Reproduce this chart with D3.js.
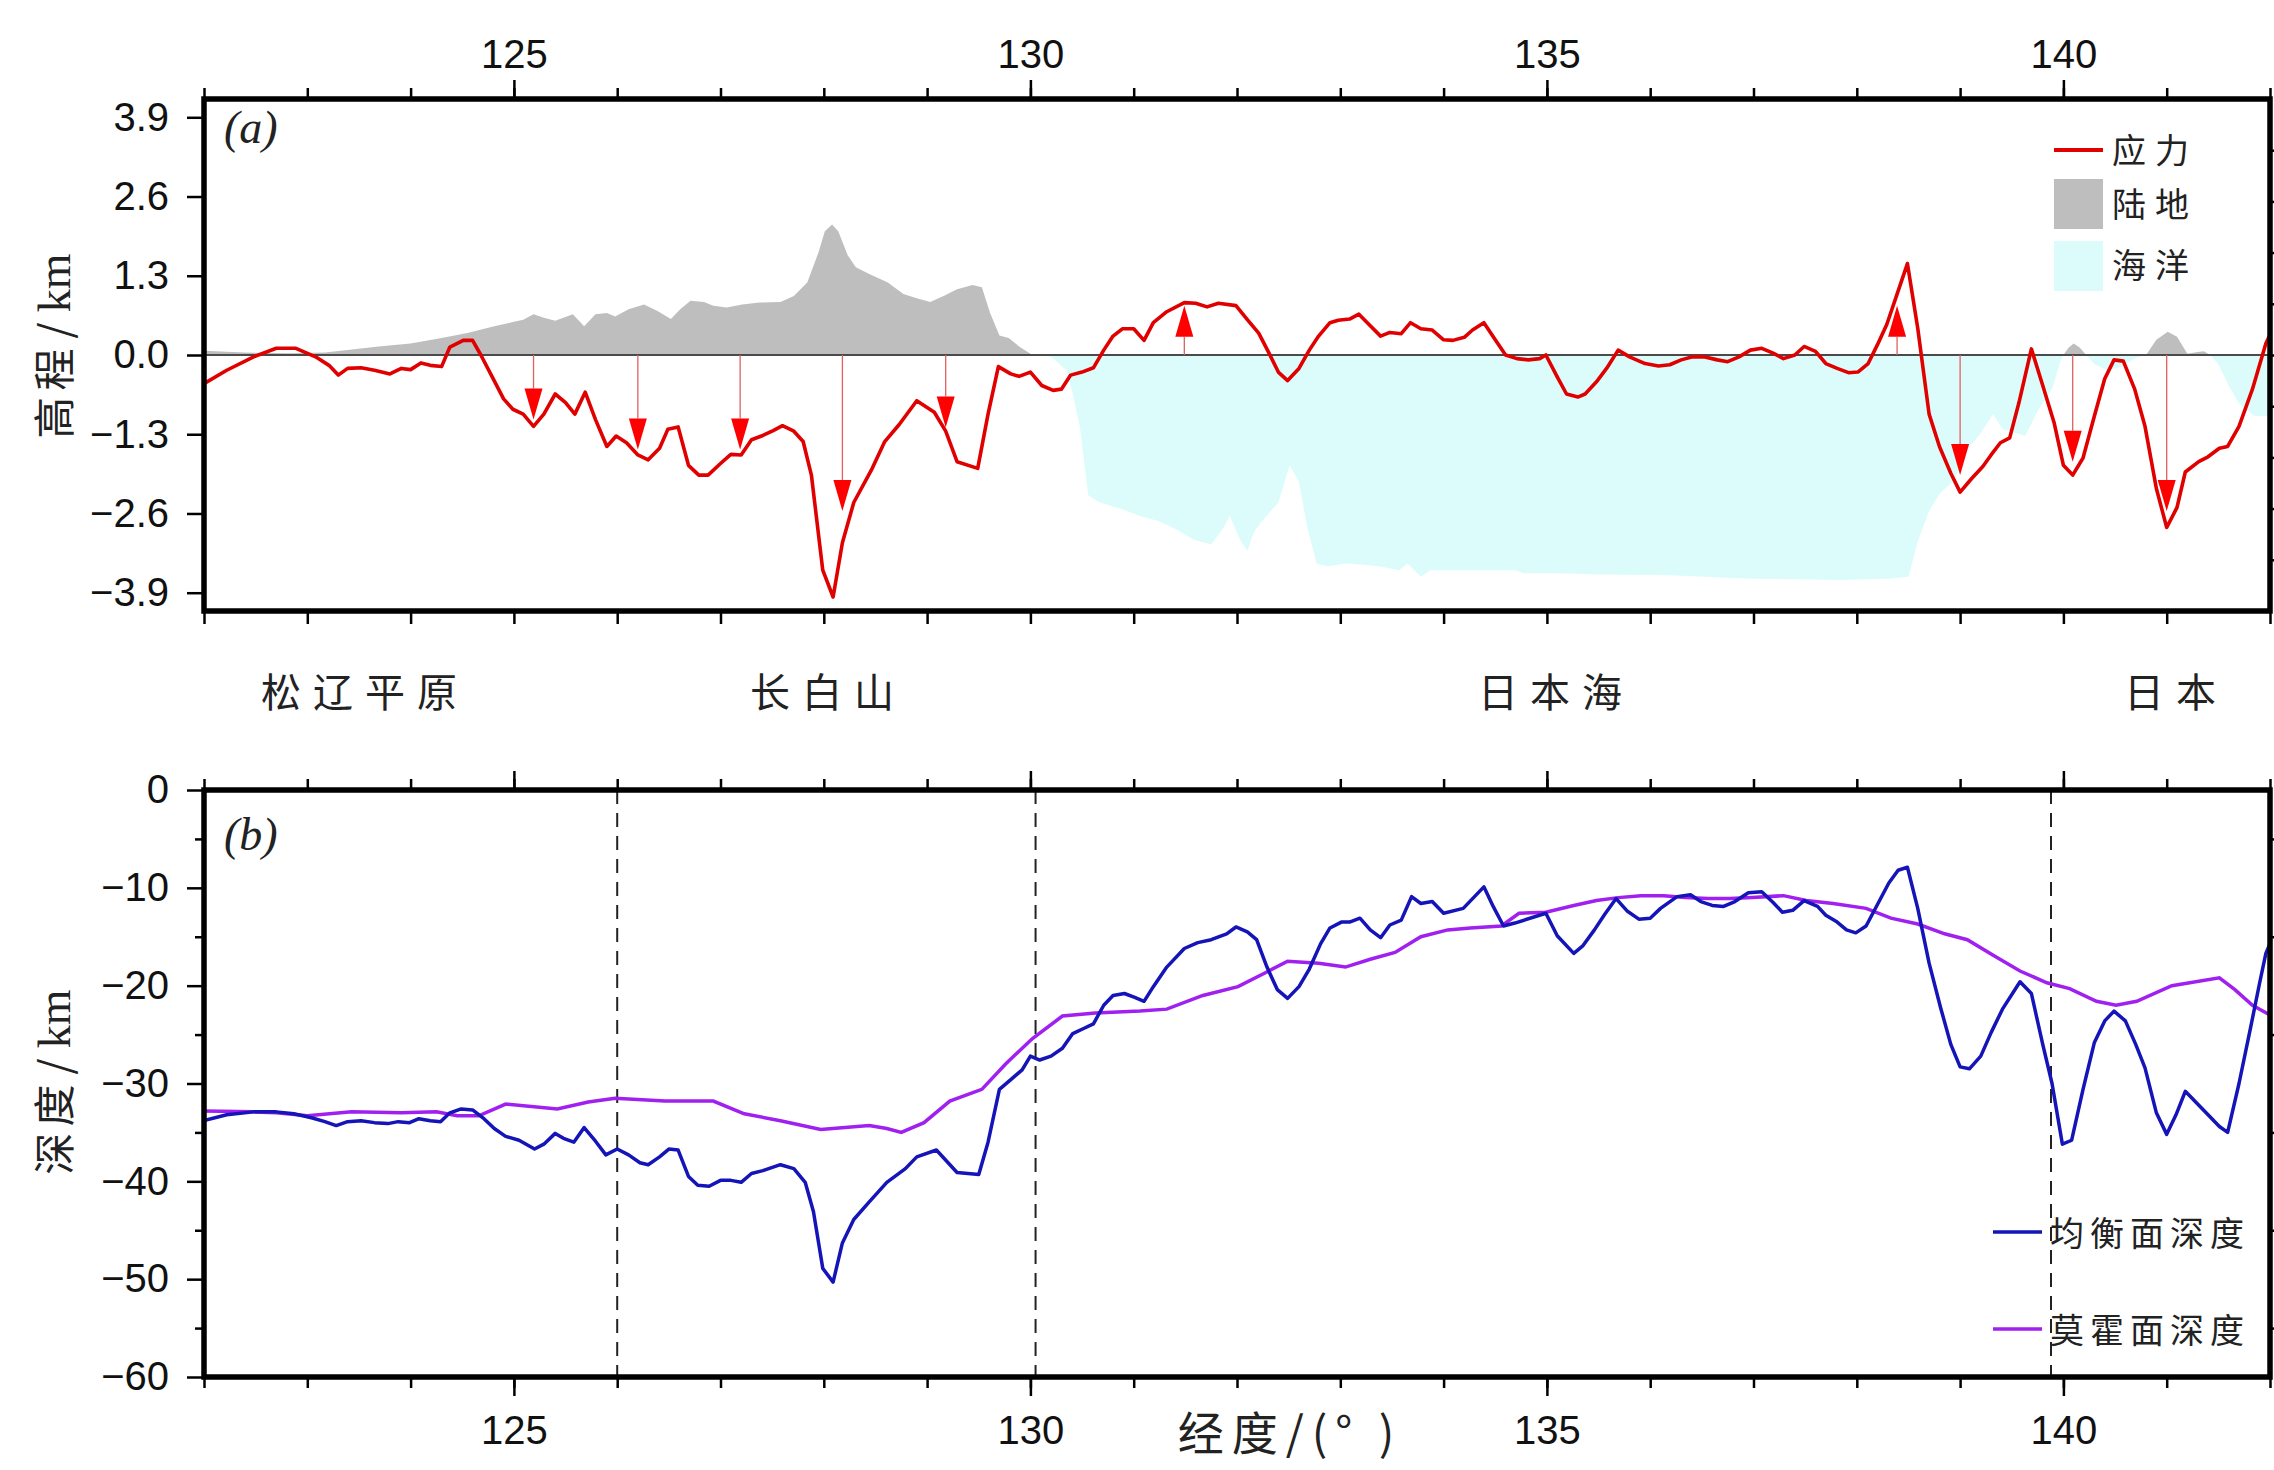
<!DOCTYPE html>
<html>
<head>
<meta charset="utf-8">
<script src="https://cdn.jsdelivr.net/npm/d3@7"></script>
<style>
body { margin: 0; background: #fff; }
svg { display: block; }
.tick text { font-family: "Liberation Sans", Arial, sans-serif; font-size: 40px; fill: #111; }
.cjk { font-family: "Noto Sans CJK SC", sans-serif; fill: #222; }
</style>
</head>
<body>
<svg id="chart" width="2274" height="1470"></svg>
<script>
// stress profile (lon, value) - panel a
var stress = [[122.0,-0.47],[122.22,-0.25],[122.48,-0.03],[122.7,0.11],[122.89,0.11],[123.08,-0.03],[123.21,-0.17],[123.3,-0.33],[123.39,-0.22],[123.52,-0.21],[123.65,-0.25],[123.8,-0.31],[123.91,-0.22],[124.0,-0.24],[124.1,-0.13],[124.19,-0.17],[124.3,-0.19],[124.38,0.13],[124.51,0.24],[124.6,0.24],[124.68,0.0],[124.79,-0.36],[124.9,-0.72],[124.99,-0.89],[125.09,-0.97],[125.19,-1.17],[125.29,-0.97],[125.4,-0.64],[125.5,-0.78],[125.59,-0.97],[125.69,-0.61],[125.79,-1.06],[125.9,-1.5],[125.99,-1.33],[126.09,-1.44],[126.2,-1.64],[126.3,-1.72],[126.41,-1.53],[126.49,-1.22],[126.59,-1.18],[126.69,-1.81],[126.79,-1.97],[126.88,-1.97],[127.0,-1.78],[127.1,-1.63],[127.2,-1.64],[127.3,-1.39],[127.41,-1.32],[127.51,-1.24],[127.6,-1.16],[127.71,-1.25],[127.8,-1.42],[127.88,-1.97],[127.99,-3.53],[128.09,-3.97],[128.18,-3.08],[128.29,-2.42],[128.46,-1.89],[128.59,-1.42],[128.73,-1.14],[128.9,-0.75],[129.07,-0.94],[129.18,-1.25],[129.29,-1.75],[129.49,-1.86],[129.59,-0.97],[129.69,-0.19],[129.81,-0.31],[129.89,-0.35],[130.0,-0.28],[130.11,-0.5],[130.22,-0.58],[130.3,-0.56],[130.39,-0.33],[130.5,-0.28],[130.61,-0.21],[130.71,0.08],[130.8,0.31],[130.89,0.43],[131.0,0.43],[131.1,0.24],[131.19,0.53],[131.32,0.71],[131.49,0.86],[131.6,0.85],[131.71,0.79],[131.82,0.85],[131.99,0.81],[132.1,0.58],[132.21,0.36],[132.31,0.03],[132.4,-0.28],[132.49,-0.42],[132.6,-0.22],[132.7,0.08],[132.79,0.31],[132.9,0.53],[132.98,0.57],[133.09,0.59],[133.18,0.67],[133.29,0.48],[133.39,0.31],[133.48,0.37],[133.59,0.35],[133.68,0.53],[133.78,0.43],[133.89,0.41],[134.0,0.25],[134.09,0.24],[134.2,0.29],[134.28,0.41],[134.39,0.53],[134.5,0.25],[134.6,0.0],[134.71,-0.06],[134.82,-0.08],[134.93,-0.06],[134.99,0.0],[135.1,-0.36],[135.19,-0.64],[135.3,-0.69],[135.37,-0.64],[135.48,-0.44],[135.59,-0.19],[135.69,0.08],[135.8,-0.03],[135.95,-0.14],[136.08,-0.18],[136.19,-0.16],[136.3,-0.08],[136.41,-0.03],[136.52,-0.03],[136.65,-0.08],[136.75,-0.11],[136.86,-0.03],[136.97,0.08],[137.08,0.11],[137.19,0.03],[137.29,-0.06],[137.4,0.0],[137.49,0.14],[137.6,0.06],[137.7,-0.14],[137.81,-0.22],[137.92,-0.29],[138.01,-0.28],[138.11,-0.14],[138.2,0.17],[138.29,0.5],[138.39,1.0],[138.49,1.5],[138.59,0.44],[138.7,-0.97],[138.8,-1.5],[138.91,-1.94],[139.0,-2.25],[139.11,-2.03],[139.22,-1.83],[139.3,-1.64],[139.39,-1.44],[139.48,-1.36],[139.57,-0.78],[139.69,0.1],[139.8,-0.5],[139.91,-1.11],[140.0,-1.81],[140.09,-1.97],[140.19,-1.69],[140.3,-1.0],[140.4,-0.39],[140.49,-0.08],[140.58,-0.1],[140.69,-0.56],[140.79,-1.17],[140.9,-2.19],[141.0,-2.83],[141.1,-2.5],[141.18,-1.92],[141.31,-1.75],[141.4,-1.67],[141.51,-1.53],[141.59,-1.5],[141.7,-1.17],[141.83,-0.56],[141.96,0.19],[142.0,0.33]];

// topography (km): positive = land, negative = sea floor
var topo = [[122.0,0.07],[122.39,0.04],[122.83,0.03],[123.17,0.04],[123.39,0.08],[123.69,0.14],[124.0,0.19],[124.3,0.28],[124.55,0.36],[124.81,0.47],[124.99,0.54],[125.09,0.58],[125.19,0.67],[125.29,0.61],[125.4,0.56],[125.57,0.67],[125.68,0.47],[125.79,0.67],[125.9,0.69],[125.98,0.63],[126.11,0.75],[126.26,0.83],[126.39,0.72],[126.52,0.59],[126.61,0.75],[126.71,0.89],[126.84,0.87],[126.93,0.81],[127.06,0.78],[127.21,0.83],[127.38,0.86],[127.58,0.87],[127.71,0.97],[127.84,1.19],[127.95,1.69],[128.01,2.03],[128.08,2.14],[128.14,2.03],[128.23,1.64],[128.31,1.44],[128.44,1.33],[128.62,1.19],[128.77,1.0],[128.9,0.93],[129.03,0.87],[129.16,0.97],[129.29,1.08],[129.44,1.15],[129.53,1.11],[129.61,0.69],[129.7,0.32],[129.79,0.28],[129.89,0.14],[130.02,0.0],
  [130.2,-0.03],[130.35,-0.25],[130.41,-0.64],[130.48,-1.19],[130.52,-1.75],[130.56,-2.3],[130.67,-2.42],[130.89,-2.53],[131.06,-2.64],[131.23,-2.72],[131.41,-2.86],[131.58,-3.03],[131.75,-3.11],[131.86,-2.86],[131.93,-2.64],[132.03,-3.03],[132.1,-3.22],[132.16,-2.92],[132.23,-2.75],[132.4,-2.42],[132.51,-1.81],[132.6,-2.08],[132.68,-2.83],[132.77,-3.42],[132.88,-3.47],[133.05,-3.42],[133.22,-3.44],[133.39,-3.47],[133.57,-3.53],[133.65,-3.42],[133.78,-3.64],[133.87,-3.53],[134.09,-3.53],[134.35,-3.53],[134.69,-3.53],[134.78,-3.58],[135.12,-3.58],[135.5,-3.6],[136.13,-3.61],[136.99,-3.67],[137.85,-3.69],[138.29,-3.67],[138.5,-3.64],[138.59,-3.06],[138.7,-2.56],[138.8,-2.28],[138.94,-2.06],[139.07,-1.56],[139.2,-1.28],[139.32,-0.97],[139.41,-1.22],[139.54,-1.28],[139.63,-1.33],[139.76,-0.89],[139.89,-0.56],[139.97,-0.11],[140.0,0.0],[140.05,0.12],[140.1,0.19],[140.16,0.12],[140.22,0.0],[140.3,-0.15],[140.42,-0.25],[140.55,-0.2],[140.7,-0.05],[140.8,0.0],[140.9,0.25],[141.01,0.38],[141.1,0.3],[141.2,0.02],[141.3,0.05],[141.36,0.06],[141.42,0.0],[141.5,-0.15],[141.6,-0.5],[141.7,-0.8],[141.85,-1.0],[142.0,-1.0]];

// stress arrows: lon, arrow tip value
var arrows = [[125.19,-1.06],[126.2,-1.55],[127.19,-1.55],[128.18,-2.56],[129.18,-1.19],[131.49,0.81],[138.39,0.81],[139.0,-1.97],[140.09,-1.75],[141.0,-2.56]];

// panel b: isostatic surface depth and Moho depth (km)
var isoDepth = [[122.0,-33.8],[122.22,-33.2],[122.48,-32.9],[122.7,-32.9],[122.87,-33.1],[123.04,-33.5],[123.17,-33.9],[123.28,-34.3],[123.39,-33.9],[123.52,-33.8],[123.65,-34.0],[123.78,-34.1],[123.88,-33.9],[123.99,-34.0],[124.08,-33.6],[124.19,-33.8],[124.29,-33.9],[124.38,-33.0],[124.49,-32.6],[124.6,-32.7],[124.71,-33.6],[124.81,-34.6],[124.92,-35.4],[125.05,-35.8],[125.2,-36.7],[125.29,-36.2],[125.4,-35.1],[125.48,-35.6],[125.58,-36.0],[125.68,-34.5],[125.79,-35.9],[125.89,-37.3],[126.0,-36.7],[126.11,-37.3],[126.22,-38.1],[126.3,-38.3],[126.41,-37.5],[126.5,-36.7],[126.59,-36.8],[126.69,-39.5],[126.78,-40.4],[126.89,-40.5],[127.0,-39.9],[127.1,-39.9],[127.2,-40.1],[127.3,-39.2],[127.41,-38.9],[127.58,-38.3],[127.71,-38.7],[127.82,-40.1],[127.9,-43.1],[127.99,-48.9],[128.09,-50.3],[128.18,-46.3],[128.29,-43.9],[128.44,-42.1],[128.61,-40.1],[128.79,-38.7],[128.9,-37.5],[129.09,-36.8],[129.29,-39.1],[129.5,-39.3],[129.59,-36.0],[129.7,-30.6],[129.81,-29.6],[129.92,-28.6],[130.0,-27.2],[130.09,-27.6],[130.2,-27.2],[130.31,-26.4],[130.41,-24.9],[130.51,-24.4],[130.61,-23.9],[130.71,-22.0],[130.8,-21.0],[130.91,-20.8],[131.01,-21.2],[131.1,-21.6],[131.19,-20.1],[131.32,-18.1],[131.49,-16.2],[131.62,-15.6],[131.75,-15.3],[131.9,-14.7],[131.99,-14.0],[132.1,-14.5],[132.19,-15.3],[132.29,-18.1],[132.39,-20.4],[132.49,-21.3],[132.6,-20.1],[132.7,-18.3],[132.81,-15.7],[132.9,-14.1],[133.01,-13.5],[133.09,-13.5],[133.19,-13.1],[133.29,-14.3],[133.39,-15.1],[133.48,-13.8],[133.59,-13.3],[133.69,-10.9],[133.78,-11.6],[133.89,-11.4],[134.0,-12.6],[134.19,-12.1],[134.39,-9.9],[134.48,-11.9],[134.58,-13.9],[134.69,-13.6],[134.99,-12.6],[135.1,-14.9],[135.26,-16.7],[135.35,-15.9],[135.46,-14.3],[135.56,-12.7],[135.67,-11.1],[135.78,-12.4],[135.89,-13.2],[136.0,-13.1],[136.1,-12.1],[136.26,-10.9],[136.39,-10.7],[136.49,-11.4],[136.6,-11.8],[136.71,-11.9],[136.82,-11.4],[136.95,-10.5],[137.08,-10.4],[137.19,-11.5],[137.28,-12.5],[137.38,-12.3],[137.49,-11.3],[137.62,-11.9],[137.7,-12.8],[137.81,-13.5],[137.9,-14.3],[137.99,-14.6],[138.09,-13.9],[138.2,-11.7],[138.31,-9.5],[138.4,-8.2],[138.49,-7.9],[138.59,-12.1],[138.7,-17.7],[138.81,-22.2],[138.91,-26.0],[139.0,-28.3],[139.09,-28.5],[139.2,-27.2],[139.3,-24.8],[139.41,-22.4],[139.58,-19.6],[139.69,-20.8],[139.8,-26.0],[139.89,-30.0],[139.99,-36.2],[140.08,-35.8],[140.19,-30.6],[140.3,-25.8],[140.4,-23.6],[140.49,-22.6],[140.6,-23.6],[140.7,-26.0],[140.79,-28.4],[140.9,-33.0],[141.0,-35.2],[141.09,-33.2],[141.18,-30.8],[141.29,-32.0],[141.4,-33.2],[141.51,-34.4],[141.59,-35.0],[141.7,-30.0],[141.81,-24.4],[141.9,-19.7],[141.96,-16.7],[142.0,-15.7]];

var mohoDepth = [[122.0,-32.8],[122.48,-32.9],[122.7,-33.0],[123.0,-33.3],[123.43,-32.9],[123.91,-33.0],[124.25,-32.9],[124.45,-33.3],[124.66,-33.3],[124.92,-32.1],[125.42,-32.6],[125.72,-31.9],[125.98,-31.5],[126.46,-31.8],[126.93,-31.8],[127.23,-33.1],[127.58,-33.8],[127.97,-34.7],[128.44,-34.3],[128.61,-34.6],[128.75,-35.0],[128.97,-34.0],[129.22,-31.8],[129.53,-30.6],[129.76,-28.0],[130.02,-25.4],[130.31,-23.1],[130.63,-22.8],[131.06,-22.6],[131.32,-22.4],[131.67,-21.0],[132.01,-20.1],[132.27,-18.7],[132.49,-17.5],[132.79,-17.7],[133.05,-18.1],[133.29,-17.3],[133.53,-16.6],[133.78,-15.0],[134.04,-14.3],[134.26,-14.1],[134.56,-13.9],[134.73,-12.6],[134.99,-12.5],[135.26,-11.8],[135.48,-11.3],[135.69,-11.0],[135.91,-10.8],[136.13,-10.8],[136.34,-11.0],[136.56,-11.1],[136.77,-11.1],[136.99,-11.0],[137.29,-10.8],[137.51,-11.3],[137.77,-11.6],[138.09,-12.1],[138.33,-13.1],[138.59,-13.7],[138.85,-14.7],[139.07,-15.3],[139.32,-16.9],[139.58,-18.5],[139.84,-19.7],[140.06,-20.3],[140.32,-21.6],[140.51,-22.0],[140.71,-21.6],[141.05,-20.0],[141.51,-19.2],[141.66,-20.4],[141.83,-22.0],[142.0,-23.0]];

var dashLons = [126.0, 130.05, 139.88];
var lonMajor = [125, 130, 135, 140];
var lonMinor = d3.range(122, 143, 1);
var elevTicks = [-3.9, -2.6, -1.3, 0, 1.3, 2.6, 3.9];
var elevRightTicks = [-4, -3, -2, -1, 0, 1, 2, 3, 4];
var depthTicks = [-60, -50, -40, -30, -20, -10, 0];
var depthMinor = [-55, -45, -35, -25, -15, -5];
var regions = [["松辽平原", 359], ["长白山", 822], ["日本海", 1550], ["日本", 2170]];

var svg = d3.select("#chart");
var x = d3.scaleLinear().domain([122, 142]).range([204, 2270]);
var yA = d3.scaleLinear().domain([-4.2, 4.2]).range([611, 99]);
var yAr = d3.scaleLinear().domain([-5, 5]).range([611, 99]);
var yB = d3.scaleLinear().domain([-60, 0]).range([1377, 790]);

function lon(d) { return x(d[0]); }

// clip paths
var defs = svg.append("defs");
defs.append("clipPath").attr("id", "clipA").append("rect")
  .attr("x", 204).attr("y", 99).attr("width", 2066).attr("height", 512);
defs.append("clipPath").attr("id", "clipB").append("rect")
  .attr("x", 204).attr("y", 790).attr("width", 2066).attr("height", 587);

// ---------- panel a ----------
var gA = svg.append("g").attr("clip-path", "url(#clipA)");

gA.append("path").datum(topo)
  .attr("fill", "#bebebe")
  .attr("d", d3.area().x(lon).y0(yA(0)).y1(function(d) { return yA(Math.max(0, d[1])); }));
gA.append("path").datum(topo)
  .attr("fill", "#dcfcfc")
  .attr("d", d3.area().x(lon).y0(yA(0)).y1(function(d) { return yA(Math.min(0, d[1])); }));

gA.append("line").attr("x1", x(122)).attr("x2", x(142))
  .attr("y1", yA(0)).attr("y2", yA(0))
  .attr("stroke", "#4a4a4a").attr("stroke-width", 2);

gA.append("path").datum(stress)
  .attr("fill", "none").attr("stroke", "#e00000").attr("stroke-width", 3.6)
  .attr("stroke-linejoin", "round")
  .attr("d", d3.line().x(lon).y(function(d) { return yA(d[1]); }));

// arrows
var ah = 31, aw = 9;
arrows.forEach(function(a) {
  var ax = x(a[0]), tip = yA(a[1]), dir = a[1] < 0 ? -1 : 1;
  var base = tip + dir * ah;
  gA.append("line").attr("x1", ax).attr("x2", ax).attr("y1", yA(0)).attr("y2", base)
    .attr("stroke", "#e06060").attr("stroke-width", 1.3);
  gA.append("path")
    .attr("d", "M" + (ax - aw) + "," + base + "L" + (ax + aw) + "," + base + "L" + ax + "," + tip + "Z")
    .attr("fill", "#ff0000");
});

// ---------- panel b ----------
var gB = svg.append("g").attr("clip-path", "url(#clipB)");
dashLons.forEach(function(l) {
  gB.append("line").attr("x1", x(l)).attr("x2", x(l)).attr("y1", yB(0)).attr("y2", yB(-60))
    .attr("stroke", "#222").attr("stroke-width", 2).attr("stroke-dasharray", "14,9");
});
gB.append("path").datum(mohoDepth)
  .attr("fill", "none").attr("stroke", "#a020f0").attr("stroke-width", 3.5)
  .attr("d", d3.line().x(lon).y(function(d) { return yB(d[1]); }));
gB.append("path").datum(isoDepth)
  .attr("fill", "none").attr("stroke", "#1414b8").attr("stroke-width", 3.5)
  .attr("stroke-linejoin", "round")
  .attr("d", d3.line().x(lon).y(function(d) { return yB(d[1]); }));

// ---------- axes ----------
function styleAxis(g) {
  g.select(".domain").remove();
  g.selectAll(".tick line").attr("stroke", "#000").attr("stroke-width", 2.5);
}
// panel a top
svg.append("g").attr("transform", "translate(0,99)")
  .call(d3.axisTop(x).tickValues(lonMinor).tickSize(11).tickFormat("")).call(styleAxis);
svg.append("g").attr("transform", "translate(0,99)")
  .call(d3.axisTop(x).tickValues(lonMajor).tickSize(19).tickPadding(12).tickFormat(d3.format("d"))).call(styleAxis);
// panel a bottom
svg.append("g").attr("transform", "translate(0,611)")
  .call(d3.axisBottom(x).tickValues(lonMinor).tickSize(13).tickFormat("")).call(styleAxis);
// panel a left / right
svg.append("g").attr("transform", "translate(204,0)")
  .call(d3.axisLeft(yA).tickValues(elevTicks).tickSize(17).tickPadding(18).tickFormat(d3.format(".1f"))).call(styleAxis);
svg.append("g").attr("transform", "translate(2270,0)")
  .call(d3.axisRight(yAr).tickValues(elevRightTicks).tickSize(12).tickFormat("")).call(styleAxis);

// panel b top
svg.append("g").attr("transform", "translate(0,790)")
  .call(d3.axisTop(x).tickValues(lonMinor).tickSize(11).tickFormat("")).call(styleAxis);
svg.append("g").attr("transform", "translate(0,790)")
  .call(d3.axisTop(x).tickValues(lonMajor).tickSize(19).tickFormat("")).call(styleAxis);
// panel b bottom
svg.append("g").attr("transform", "translate(0,1377)")
  .call(d3.axisBottom(x).tickValues(lonMinor).tickSize(11).tickFormat("")).call(styleAxis);
svg.append("g").attr("transform", "translate(0,1377)")
  .call(d3.axisBottom(x).tickValues(lonMajor).tickSize(19).tickPadding(20).tickFormat(d3.format("d"))).call(styleAxis);
// panel b left / right
svg.append("g").attr("transform", "translate(204,0)")
  .call(d3.axisLeft(yB).tickValues(depthMinor).tickSize(9).tickFormat("")).call(styleAxis);
svg.append("g").attr("transform", "translate(204,0)")
  .call(d3.axisLeft(yB).tickValues(depthTicks).tickSize(17).tickPadding(18).tickFormat(d3.format("d"))).call(styleAxis);
svg.append("g").attr("transform", "translate(2270,0)")
  .call(d3.axisRight(yB).tickValues(depthMinor).tickSize(12).tickFormat("")).call(styleAxis);

// frames
[[99, 611], [790, 1377]].forEach(function(p) {
  svg.append("rect").attr("x", 204).attr("y", p[0]).attr("width", 2066).attr("height", p[1] - p[0])
    .attr("fill", "none").attr("stroke", "#000").attr("stroke-width", 5.5);
});

// ---------- text ----------
svg.append("text").attr("x", 224).attr("y", 143)
  .attr("font-family", "Liberation Serif, serif").attr("font-style", "italic").attr("font-size", 46)
  .attr("fill", "#222").text("(a)");
svg.append("text").attr("x", 224).attr("y", 850)
  .attr("font-family", "Liberation Serif, serif").attr("font-style", "italic").attr("font-size", 46)
  .attr("fill", "#222").text("(b)");

function yTitle(cx, cy, cjk) {
  var t = svg.append("text").attr("font-size", 42).attr("text-anchor", "middle")
    .attr("transform", "translate(" + cx + "," + cy + ") rotate(-90)");
  t.append("tspan").attr("class", "cjk").attr("letter-spacing", 6).text(cjk);
  t.append("tspan").attr("class", "cjk").attr("dx", 4).text("/");
  t.append("tspan").attr("font-family", "Liberation Serif, serif").attr("fill", "#222")
    .attr("font-size", 46).attr("dx", 10).text("km");
}
yTitle(70, 346, "高程");
yTitle(70, 1082, "深度");

regions.forEach(function(r) {
  svg.append("text").attr("class", "cjk").attr("font-size", 40).attr("letter-spacing", 12)
    .attr("text-anchor", "middle").attr("x", r[1] + 6).attr("y", 707).text(r[0]);
});

svg.append("text").attr("class", "cjk").attr("font-size", 46).attr("letter-spacing", 8)
  .attr("text-anchor", "middle").attr("x", 1290).attr("y", 1450).text("经度/(° )");

// legend panel a
svg.append("line").attr("x1", 2054).attr("x2", 2103).attr("y1", 150).attr("y2", 150)
  .attr("stroke", "#e00000").attr("stroke-width", 4);
svg.append("rect").attr("x", 2054).attr("y", 179).attr("width", 49).attr("height", 50).attr("fill", "#bebebe");
svg.append("rect").attr("x", 2054).attr("y", 241).attr("width", 49).attr("height", 50).attr("fill", "#dcfcfc");
[["应力", 163], ["陆地", 217], ["海洋", 278]].forEach(function(t) {
  svg.append("text").attr("class", "cjk").attr("font-size", 34).attr("letter-spacing", 9)
    .attr("x", 2112).attr("y", t[1]).text(t[0]);
});

// legend panel b
svg.append("line").attr("x1", 1993).attr("x2", 2042).attr("y1", 1232).attr("y2", 1232)
  .attr("stroke", "#1414b8").attr("stroke-width", 3.5);
svg.append("line").attr("x1", 1993).attr("x2", 2042).attr("y1", 1329).attr("y2", 1329)
  .attr("stroke", "#a020f0").attr("stroke-width", 3.5);
[["均衡面深度", 1246], ["莫霍面深度", 1343]].forEach(function(t) {
  svg.append("text").attr("class", "cjk").attr("font-size", 34).attr("letter-spacing", 6)
    .attr("x", 2050).attr("y", t[1]).text(t[0]);
});
</script>
</body>
</html>
